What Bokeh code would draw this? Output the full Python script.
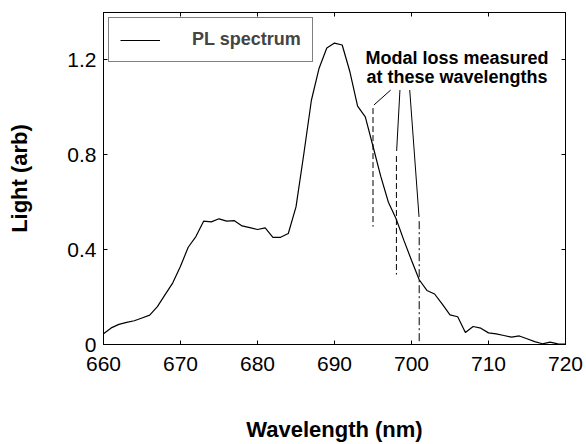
from bokeh.plotting import figure
from bokeh.models import LinearAxis, Range1d, FixedTicker, Legend, LegendItem, Label
from bokeh.embed import file_html
from bokeh.resources import INLINE

# ---- data ----
wavelength = list(range(660, 721))
pl = [0.045, 0.07, 0.085, 0.093, 0.10, 0.112, 0.124, 0.16, 0.21, 0.26,
      0.33, 0.41, 0.455, 0.52, 0.517, 0.53, 0.52, 0.522, 0.50, 0.493,
      0.485, 0.492, 0.452, 0.452, 0.468, 0.58, 0.80, 1.03, 1.165, 1.25,
      1.271, 1.263, 1.15, 1.005, 0.96, 0.836, 0.71, 0.60, 0.53, 0.44,
      0.355, 0.273, 0.228, 0.213, 0.17, 0.125, 0.117, 0.051, 0.076, 0.069,
      0.049, 0.045, 0.038, 0.031, 0.036, 0.024, 0.012, 0.003, 0.01, 0.003,
      0.002]

x_ticks = [660, 670, 680, 690, 700, 710, 720]
y_ticks = [0, 0.4, 0.8, 1.2]
y_tick_labels = {0: "0", 0.4: "0.4", 0.8: "0.8", 1.2: "1.2"}

# measured wavelengths (vertical markers)
mark_x = [695.0, 698.04, 701.0]
mark_top = [0.997, 0.795, 0.52]
mark_bottom = [0.497, 0.295, 0.0]
# leader lines from annotation text
lead_x0 = [695.12, 698.07, 700.98]
lead_y0 = [1.01, 0.816, 0.538]
lead_x1 = [697.3, 698.5, 699.77]
lead_y1 = [1.073, 1.073, 1.073]

annot_lines = ["Modal loss measured", "at these wavelengths"]
annot_x = 705.9
annot_y = [1.2075, 1.128]

FONT = "Liberation Sans"

p = figure(width=586, height=444, output_backend="svg", toolbar_location=None,
           x_range=Range1d(660, 720), y_range=Range1d(0, 1.4),
           min_border_left=103, min_border_right=21, min_border_top=12,
           min_border_bottom=96, x_axis_label="Wavelength (nm)",
           y_axis_label="Light (arb)")
p.grid.visible = False
p.outline_line_color = "black"
p.background_fill_color = "white"
p.border_fill_color = "white"

for ax in (p.xaxis[0], p.yaxis[0]):
    ax.major_tick_in = 4
    ax.major_tick_out = 0
    ax.minor_tick_line_color = None
    ax.axis_line_color = "black"
    ax.major_tick_line_color = "black"
    ax.major_label_text_font = FONT
    ax.major_label_text_font_size = "21px"
    ax.major_label_text_color = "black"
    ax.axis_label_text_font = FONT
    ax.axis_label_text_font_size = "22px"
    ax.axis_label_text_font_style = "bold"
    ax.axis_label_text_color = "black"

p.xaxis[0].ticker = FixedTicker(ticks=x_ticks)
p.yaxis[0].ticker = FixedTicker(ticks=y_ticks)
p.yaxis[0].major_label_overrides = y_tick_labels
p.xaxis[0].major_label_standoff = 12
p.xaxis[0].axis_label_standoff = 43
p.yaxis[0].major_label_standoff = 7
p.yaxis[0].axis_label_standoff = 32

for loc, tk in (("above", x_ticks), ("right", y_ticks)):
    ax = LinearAxis(ticker=FixedTicker(ticks=tk))
    ax.major_tick_in = 4
    ax.major_tick_out = 0
    ax.minor_tick_line_color = None
    ax.major_label_text_font_size = "1px"
    ax.major_label_text_color = None
    ax.major_label_standoff = 0
    ax.axis_line_color = "black"
    p.add_layout(ax, loc)

r = p.line(wavelength, pl, line_color="black", line_width=1.2)

# markers
p.segment(x0=mark_x[:2], y0=mark_top[:2], x1=mark_x[:2], y1=mark_bottom[:2],
          line_color="black", line_width=1, line_dash="6 3")
p.segment(x0=mark_x[2:], y0=mark_top[2:], x1=mark_x[2:], y1=mark_bottom[2:],
          line_color="black", line_width=1, line_dash="8 3 2 3")
p.segment(x0=lead_x0, y0=lead_y0, x1=lead_x1, y1=lead_y1,
          line_color="black", line_width=1)

for t, yy in zip(annot_lines, annot_y):
    p.add_layout(Label(x=annot_x, y=yy, text=t, text_align="center",
                       text_baseline="alphabetic", text_font=FONT,
                       text_font_size="18px", text_font_style="bold",
                       text_color="black"))

legend = Legend(items=[LegendItem(label="PL spectrum", renderers=[r])],
                location="top_left", margin=5, padding=11, glyph_width=40,
                label_standoff=32, label_text_font=FONT,
                label_text_font_size="18px", label_text_font_style="bold",
                border_line_color="black", border_line_width=1,
                background_fill_alpha=1.0, label_height=20)
p.add_layout(legend, "center")

open("out.html", "w").write(file_html(p, INLINE))
